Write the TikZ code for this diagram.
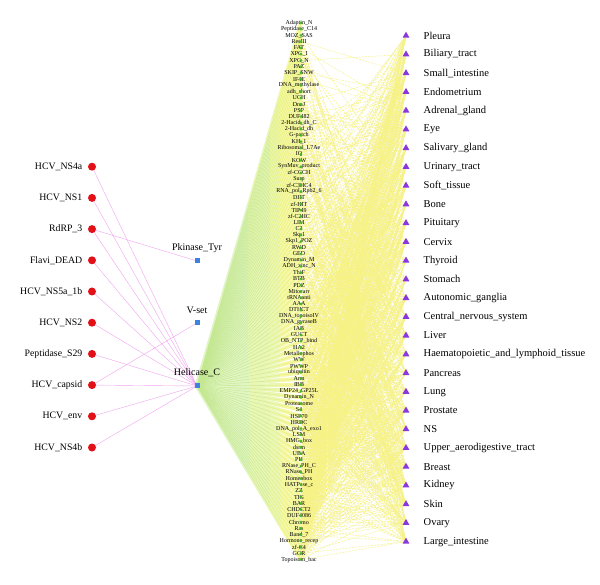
\documentclass[tikz,border=0pt]{standalone}
\usepackage{fontspec}
\setmainfont{Liberation Serif}
\usetikzlibrary{calc,backgrounds,shapes.geometric}
\definecolor{hcvred}{RGB}{228,16,24}
\definecolor{hubblue}{RGB}{58,132,224}
\definecolor{tissue}{RGB}{138,56,222}
\definecolor{domgreen}{RGB}{70,185,40}
\definecolor{pinkedge}{RGB}{240,165,240}
\definecolor{fanA}{RGB}{224,245,194}
\definecolor{fanB}{RGB}{234,247,180}
\definecolor{fanC}{RGB}{246,248,165}
\definecolor{fanD}{RGB}{196,232,145}
\definecolor{fanE}{RGB}{228,240,118}
\definecolor{yedge}{RGB}{246,242,132}
\begin{document}
\begin{tikzpicture}[x=1pt,y=-1pt,
  hcv/.style={circle,fill=hcvred,inner sep=0pt,minimum size=8pt},
  hcvlab/.style={anchor=east,inner sep=0pt,font=\fontsize{9.8}{10}\selectfont},
  hub/.style={rectangle,fill=hubblue,inner sep=0pt,minimum size=5pt},
  hublab/.style={inner sep=0pt,font=\fontsize{10}{11}\selectfont},
  tis/.style={regular polygon,regular polygon sides=3,fill=tissue,inner sep=0pt,minimum size=8pt},
  tislab/.style={anchor=west,inner sep=0pt,font=\fontsize{10.5}{11}\selectfont},
  dom/.style={circle,fill=domgreen,inner sep=0pt,minimum size=3pt},
  domlab/.style={inner sep=0pt,font=\fontsize{6}{6}\selectfont},
  pinkline/.style={draw=pinkedge,line width=0.4pt},
  fanwideA/.style={draw=fanA,line width=4pt},
  fanwideB/.style={draw=fanB,line width=4pt},
  fanwideC/.style={draw=fanC,line width=4pt},
  fanthinA/.style={draw=fanD,line width=0.4pt},
  fanthinB/.style={draw=fanE,line width=0.4pt},
  tisline/.style={draw=yedge,line width=0.45pt,dash pattern=on 2pt off 1.2pt}
]
\useasboundingbox (0,0) rectangle (600,585);
% left nodes
\foreach \n [count=\k] in {HCV\_NS4a,HCV\_NS1,RdRP\_3,Flavi\_DEAD,HCV\_NS5a\_1b,HCV\_NS2,Peptidase\_S29,HCV\_capsid,HCV\_env,HCV\_NS4b}{
  \node[hcv] (l\k) at (92,{166.7+31.2*(\k-1)}) {};
  \node[hcvlab] (ll\k) at (82.5,{166.7+31.2*(\k-1)}) {\n};
}
% hubs
\node[hub] (h1) at (197,261) {};
\node[hublab] (hl1) at (197,248) {Pkinase\_Tyr};
\node[hub] (h2) at (197,323) {};
\node[hublab] (hl2) at (197,310.5) {V-set};
\node[hub] (h3) at (197,386) {};
\node[hublab] (hl3) at (197,373) {Helicase\_C};
% middle domains
\foreach \n [count=\i] in {Adaptin\_N,Peptidase\_C14,MOZ\_SAS,ResIII,FAT,XPG\_I,XPG\_N,PAZ,SKIP\_SNW,IF4E,DNA\_methylase,adh\_short,UCH,DnaJ,PSP,DUF482,2-Hacid\_dh\_C,2-Hacid\_dh,G-patch,KH\_1,Ribosomal\_L7Ae,IQ,KOW,SynMuv\_product,zf-CCCH,Surp,zf-C3HC4,RNA\_pol\_Rpb2\_6,DIIT,zf-HIT,TIP49,zf-C2HC,LIM,C2,Skp1,Skp1\_POZ,RWD,GED,Dynamin\_M,ADH\_zinc\_N,ThiF,BTB,PDZ,Mitocarr,tRNAanti,AAA,DTHCT,DNA\_topoisoIV,DNA\_gyraseB,IAB,GUCT,OB\_NTP\_bind,HA2,Metallophos,WW,PWWP,ubiquitin,Arm,IBB,EMP24\_GP25L,Dynamin\_N,Proteasome,S4,HSP70,HRDC,DNA\_pol\_A\_exo1,LSM,HMG\_box,dsrm,UBA,PH,RNase\_PH\_C,RNase\_PH,Homeobox,HATPase\_c,ZZ,TIG,BAR,CHDCT2,DUF4086,Chromo,Ras,Band\_7,Hormone\_recep,zf-C4,GGR,Topoisom\_bac}{
  \node[domlab] (mt\i) at (299,{23+6.24*(\i-1)}) {\n};
  \node[dom] (m\i) at (301,{23+6.24*(\i-1)}) {};
}
% tissues
\foreach \n [count=\j] in {Pleura,Biliary\_tract,Small\_intestine,Endometrium,Adrenal\_gland,Eye,Salivary\_gland,Urinary\_tract,Soft\_tissue,Bone,Pituitary,Cervix,Thyroid,Stomach,Autonomic\_ganglia,Central\_nervous\_system,Liver,Haematopoietic\_and\_lymphoid\_tissue,Pancreas,Lung,Prostate,NS,Upper\_aerodigestive\_tract,Breast,Kidney,Skin,Ovary,Large\_intestine}{
  \node[tis] (r\j) at (406,{35.7+18.74*(\j-1)}) {};
  \node[tislab] (rt\j) at (423.5,{35.7+18.74*(\j-1)}) {\n};
}
\begin{scope}[on background layer]
  \fill[white] (0,0) rectangle (600,585);
  % fan from Helicase_C: pale wide bands
  \foreach \i in {1,...,87}{
    \draw[fanwideA] (h3.center) -- ($(h3.center)!0.5!(m\i.center)$);
    \draw[fanwideB] ($(h3.center)!0.5!(m\i.center)$) -- ($(h3.center)!0.8!(m\i.center)$);
    \draw[fanwideC] ($(h3.center)!0.8!(m\i.center)$) -- (m\i.center);
  }
  % fan from Helicase_C: thin lines
  \foreach \i in {1,...,87}{
    \draw[fanthinA] (h3.center) -- ($(h3.center)!0.7!(m\i.center)$);
    \draw[fanthinB] ($(h3.center)!0.7!(m\i.center)$) -- (m\i.center);
  }
  % domain to tissue
  \pgfmathsetseed{7}
  \foreach \i in {1,...,87}{
    \foreach \j in {1,...,28}{
      \pgfmathsetmacro\rr{rnd}
      \pgfmathsetmacro\pp{0.04+0.6*\i/87}
      \ifdim\rr pt<\pp pt\relax
        \draw[tisline] (m\i.center) -- (r\j.center);
      \fi
    }
  }
  % HCV to hubs
  \foreach \k in {1,...,10}{\draw[pinkline] (l\k.center) -- (h3.center);}
  \draw[pinkline] (l3.center) -- (h1.center);
  \draw[pinkline] (l8.center) -- (h2.center);
\end{scope}
\end{tikzpicture}
\end{document}
